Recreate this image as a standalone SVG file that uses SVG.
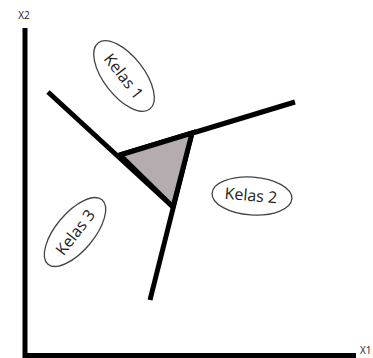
<svg xmlns="http://www.w3.org/2000/svg" width="373" height="358" viewBox="0 0 373 358">
<style>
.ax{stroke:#000;stroke-width:5;fill:none}
.ln{stroke:#000;stroke-width:5;fill:none;stroke-linecap:butt}
.el{fill:#fff;stroke:#444;stroke-width:1.3}
.lb{font-family:"Open Sans","Liberation Sans",sans-serif;font-size:16px;fill:#222;text-anchor:middle;dominant-baseline:central}
.ax-lb{font-family:"Open Sans","Liberation Sans",sans-serif;font-size:10px;fill:#222}
</style>
<rect width="373" height="358" fill="#fff"/>
<g id="axes">
<path class="ax" d="M25 28 V355.5 H356"/>
<text class="ax-lb" x="24" y="19" text-anchor="middle">X2</text>
<text class="ax-lb" x="360" y="354">X1</text>
</g>
<g id="connectors">
<path class="ln" d="M48 92 L173 207"/>
<path class="ln" d="M120 155 L295 102"/>
<path class="ln" d="M192 133 L150 300"/>
</g>
<g id="triangle">
<polygon points="120,155 192,133 173,207" fill="#b4acae" stroke="#000" stroke-width="5" stroke-linejoin="miter"/>
</g>
<g id="kelas1">
<ellipse class="el" cx="124" cy="76" rx="42" ry="20" transform="rotate(52 124 76)"/>
<text class="lb" x="124" y="76" transform="rotate(52 124 76)">Kelas 1</text>
</g>
<g id="kelas2">
<ellipse class="el" cx="252" cy="196" rx="40" ry="19" transform="rotate(4 252 196)"/>
<text class="lb" x="251" y="195" transform="rotate(5 251 195)">Kelas 2</text>
</g>
<g id="kelas3">
<ellipse class="el" cx="75" cy="232" rx="42" ry="19" transform="rotate(-50 75 232)"/>
<text class="lb" x="75" y="232" transform="rotate(-52 75 232)">Kelas 3</text>
</g>
</svg>
